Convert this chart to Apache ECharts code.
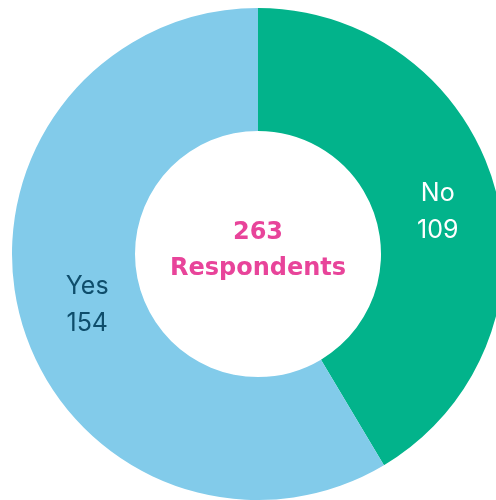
<!DOCTYPE html>
<html>
<head>
<meta charset="utf-8">
<script src="https://cdn.jsdelivr.net/npm/echarts@6/dist/echarts.min.js"></script>
<style>html,body{margin:0;padding:0;background:#fff;}#c{width:496px;height:500px;}</style>
</head>
<body>
<div id="c"></div>
<script>
var categories = ['No', 'Yes'];
var values = [109, 154];
var colors = ['#02b38b', '#82cbea'];
var labelColors = ['#ffffff', '#0e4d6b'];
var centerTitle = '263\nRespondents';

var chart = echarts.init(document.getElementById('c'), null, {renderer: 'canvas'});
chart.setOption({
  animation: false,
  title: {
    text: centerTitle,
    left: 253,
    top: 210,
    textAlign: 'center',
    textStyle: {
      color: '#e8449a',
      fontFamily: 'DejaVu Sans',
      fontWeight: 'bold',
      fontSize: 24,
      lineHeight: 36
    }
  },
  series: [{
    type: 'pie',
    center: [258, 254],
    radius: [123, 246],
    startAngle: 90,
    clockwise: true,
    silent: true,
    itemStyle: {borderWidth: 0},
    label: {
      show: true,
      position: 'inside',
      formatter: '{b}\n{c}',
      fontFamily: 'Inter',
      fontSize: 25,
      lineHeight: 37
    },
    labelLine: {show: false},
    labelLayout: function (p) {
      return p.dataIndex === 0 ? {dx: -1, dy: 8} : {dx: 10, dy: 1};
    },
    data: categories.map(function (n, i) {
      return {
        name: n,
        value: values[i],
        itemStyle: {color: colors[i]},
        label: {color: labelColors[i]}
      };
    })
  }]
});
</script>
</body>
</html>
